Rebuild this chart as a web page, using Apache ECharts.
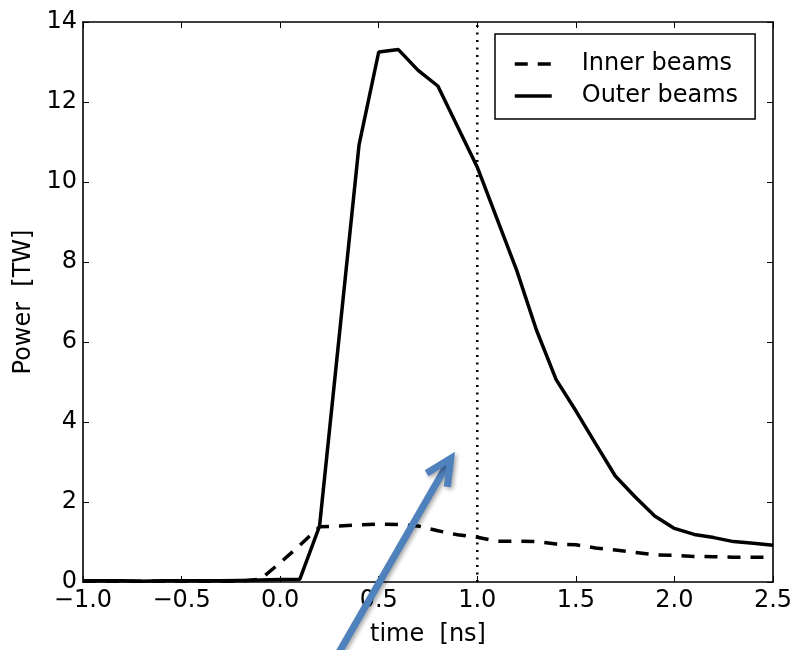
<!DOCTYPE html>
<html>
<head>
<meta charset="utf-8">
<script src="https://cdn.jsdelivr.net/npm/echarts@6/dist/echarts.min.js"></script>
<style>
  html, body { margin: 0; padding: 0; background: #fff; }
  #chart { width: 796px; height: 650px; }
</style>
</head>
<body>
<div id="chart"></div>
<script>
// ---- data ----
const times = [-1.0,-0.9,-0.8,-0.7,-0.6,-0.5,-0.4,-0.3,-0.2,-0.1,
               0.0,0.1,0.2,0.3,0.4,0.5,0.6,0.7,0.8,0.9,
               1.0,1.1,1.2,1.3,1.4,1.5,1.6,1.7,1.8,1.9,
               2.0,2.1,2.2,2.3,2.4,2.5];
const innerBeams = [0.02,0.02,0.02,0.02,0.02,0.02,0.02,0.02,0.02,0.07,
                    0.48,0.92,1.38,1.40,1.43,1.45,1.44,1.40,1.28,1.18,
                    1.12,1.02,1.02,1.01,0.95,0.93,0.85,0.80,0.74,0.68,
                    0.67,0.64,0.63,0.62,0.62,0.62];
const outerBeams = [0.03,0.03,0.03,0.02,0.03,0.03,0.03,0.03,0.04,0.05,
                    0.06,0.07,1.40,null,10.92,13.25,13.31,12.79,12.40,null,
                    10.37,null,7.79,6.30,5.06,4.28,3.46,2.65,2.13,1.65,
                    1.34,1.19,1.11,1.01,0.97,0.92];
const markerTime = [1.0, 1.0];
const markerPower = [0, 14];
// annotation arrow (data coordinates)
const arrowShaft = [[0.282, -1.9], [0.849, 2.95]];
const arrowHead = [[0.743, 2.72], [0.865, 3.09], [0.848, 2.38]];
const xTicks = {min: -1.0, max: 2.5, step: 0.5};
const yTicks = {min: 0, max: 14, step: 2};
const seriesNames = ['Inner beams', 'Outer beams'];
const axisNames = {x: 'time  [ns]', y: 'Power  [TW]'};

const pair = (xs, ys) => xs.map((x, i) => [x, ys[i]]);
const FONT = 'DejaVu Sans';
const fmtX = v => (v < 0 ? '\u2212' : '') + Math.abs(v).toFixed(1);

const baseAxis = {
  type: 'value',
  splitLine: {show: false},
  axisLine: {show: true, onZero: false, lineStyle: {color: '#000', width: 1.6}},
  axisTick: {show: true, inside: true, length: 6, lineStyle: {color: '#000', width: 1}},
};

const chart = echarts.init(document.getElementById('chart'), null, {renderer: 'canvas'});
chart.setOption({
  animation: false,
  backgroundColor: '#fff',
  grid: {left: 83, right: 23, top: 22, bottom: 68, containLabel: false, outerBoundsMode: 'none'},
  xAxis: [
    Object.assign({}, baseAxis, {
      min: xTicks.min, max: xTicks.max, interval: xTicks.step,
      position: 'bottom',
      name: axisNames.x, nameLocation: 'middle', nameGap: 41,
      nameTextStyle: {fontFamily: FONT, fontSize: 24, color: '#000'},
      axisLabel: {fontFamily: FONT, fontSize: 24, color: '#000', margin: 7, formatter: fmtX}
    }),
    Object.assign({}, baseAxis, {
      min: xTicks.min, max: xTicks.max, interval: xTicks.step,
      position: 'top', axisLabel: {show: false}
    })
  ],
  yAxis: [
    Object.assign({}, baseAxis, {
      min: yTicks.min, max: yTicks.max, interval: yTicks.step,
      position: 'left',
      name: axisNames.y, nameLocation: 'middle', nameGap: 44, nameRotate: 90,
      nameTextStyle: {fontFamily: FONT, fontSize: 24, color: '#000'},
      axisLabel: {fontFamily: FONT, fontSize: 24, color: '#000', margin: 6}
    }),
    Object.assign({}, baseAxis, {
      min: yTicks.min, max: yTicks.max, interval: yTicks.step,
      position: 'right', axisLabel: {show: false}
    })
  ],
  legend: {
    data: seriesNames,
    orient: 'vertical',
    left: 495, top: 34,
    padding: [18, 17, 11, 18],
    itemGap: 8,
    itemWidth: 37, itemHeight: 24,
    borderColor: '#000', borderWidth: 1.5, borderRadius: 0,
    backgroundColor: '#fff',
    itemStyle: {opacity: 0},
    lineStyle: {width: 3.5, color: '#000'},
    textStyle: {fontFamily: FONT, fontSize: 24, color: '#000', lineHeight: 24, padding: [0, 0, 0, 25]}
  },
  series: [
    {
      name: seriesNames[0], type: 'line', data: pair(times, innerBeams),
      symbol: 'none', connectNulls: true,
      lineStyle: {color: '#000', width: 3.5, type: [13, 10]},
      itemStyle: {color: '#000'}, z: 3
    },
    {
      name: seriesNames[1], type: 'line', data: pair(times, outerBeams),
      symbol: 'none', connectNulls: true,
      lineStyle: {color: '#000', width: 3.5, type: 'solid'},
      itemStyle: {color: '#000'}, z: 3
    },
    {
      name: 'marker', type: 'line', data: pair(markerTime, markerPower),
      symbol: 'none', silent: true,
      lineStyle: {color: '#000', width: 2.5, type: [2, 5.5]}, z: 2
    },
    {
      name: 'arrowShaft', type: 'line', data: arrowShaft, clip: false,
      symbol: 'none', silent: true,
      lineStyle: {color: '#4f81bd', width: 7, cap: 'butt',
        shadowColor: 'rgba(0,0,0,0.35)', shadowBlur: 4, shadowOffsetX: 2, shadowOffsetY: 2}, z: 10
    },
    {
      name: 'arrowHead', type: 'line', data: arrowHead, clip: false,
      symbol: 'none', silent: true,
      lineStyle: {color: '#4f81bd', width: 7, cap: 'butt', join: 'miter',
        shadowColor: 'rgba(0,0,0,0.35)', shadowBlur: 4, shadowOffsetX: 2, shadowOffsetY: 2}, z: 10
    }
  ]
});
</script>
</body>
</html>
